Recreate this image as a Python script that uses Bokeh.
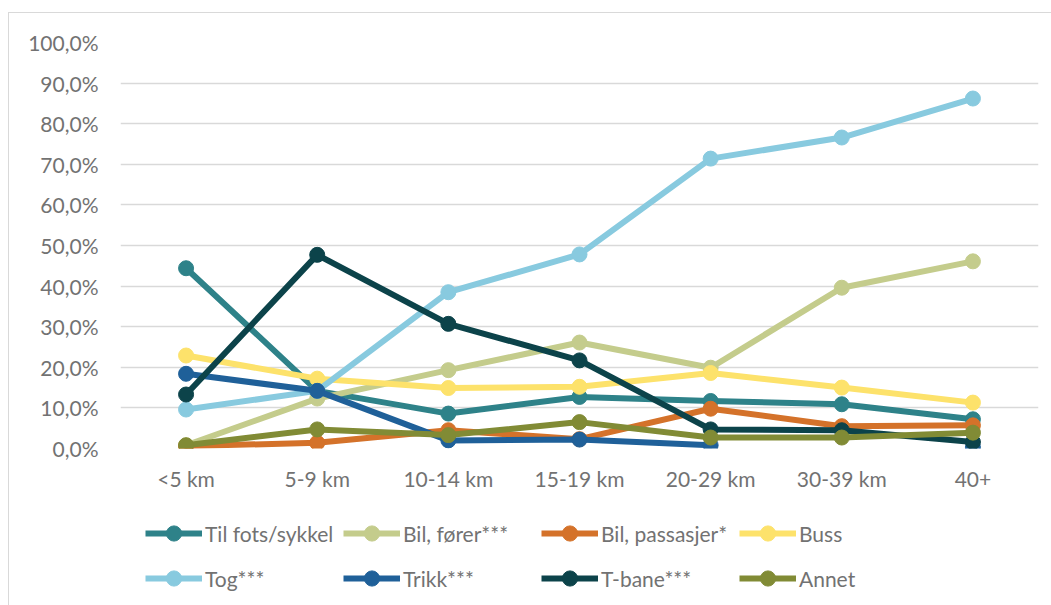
import numpy as np
from bokeh.plotting import figure
from bokeh.layouts import column
from bokeh.models import (ColumnDataSource, Range1d, FixedTicker, Legend, LegendItem)
from bokeh.embed import file_html
from bokeh.resources import INLINE

# Reisemiddel etter reiseavstand (andel av reiser, prosent)
categories = ["<5 km", "5-9 km", "10-14 km", "15-19 km", "20-29 km", "30-39 km", "40+"]

til_fots_sykkel = [44.4, 14.2, 8.6, 12.7, 11.7, 10.9, 7.2]
bil_forer = [0.8, 12.3, 19.3, 26.1, 19.9, 39.6, 46.1]
bil_passasjer = [0.6, 1.4, 4.5, 2.3, 9.8, 5.5, 5.7]
buss = [22.9, 17.2, 14.9, 15.2, 18.6, 15.0, 11.3]
tog = [9.6, 14.2, 38.5, 47.8, 71.4, 76.6, 86.2]
trikk = [18.4, 14.2, 2.0, 2.2, 0.8, None, 0.3]
t_bane = [13.3, 47.7, 30.7, 21.7, 4.7, 4.5, 1.6]
annet = [0.8, 4.7, 3.3, 6.5, 2.7, 2.7, 3.9]

series_names = ["Til fots/sykkel", "Bil, fører***", "Bil, passasjer*", "Buss",
                "Tog***", "Trikk***", "T-bane***", "Annet"]
series_values = [til_fots_sykkel, bil_forer, bil_passasjer, buss,
                 tog, trikk, t_bane, annet]
series_colors = ["#2E8289", "#C4CC8C", "#D4722A", "#FDE26B",
                 "#88CADF", "#1F6099", "#0C434A", "#818B35"]

y_ticks = list(range(0, 101, 10))

FONT = "Lato"
TEXT_COLOR = "#727272"
GRID_COLOR = "#d9d9d9"
LINE_W = 6
MARKER = 15

x_pos = np.arange(len(categories)) + 0.5

# main chart
p = figure(
    width=1042, height=492,
    x_range=Range1d(0, len(categories)), y_range=Range1d(0, 100),
    output_backend="svg", toolbar_location=None, title=None,
    min_border_left=111, min_border_right=13,
    min_border_top=29, min_border_bottom=57,
)
p.outline_line_color = None
p.background_fill_color = "white"
p.border_fill_color = "white"

p.xaxis.ticker = FixedTicker(ticks=list(x_pos))
p.xaxis.major_label_overrides = {float(x): c for x, c in zip(x_pos, categories)}
p.yaxis.ticker = FixedTicker(ticks=y_ticks)
p.yaxis.major_label_overrides = {t: f"{t},0%" for t in y_ticks}
for ax in (p.xaxis, p.yaxis):
    ax.axis_line_color = None
    ax.major_tick_line_color = None
    ax.minor_tick_line_color = None
    ax.major_label_text_font = FONT
    ax.major_label_text_font_size = "21px"
    ax.major_label_text_color = TEXT_COLOR
p.yaxis.major_label_standoff = 16
p.xaxis.major_label_standoff = 11

p.xgrid.grid_line_color = None
p.ygrid.grid_line_color = GRID_COLOR
p.ygrid.grid_line_width = 1.3

# legend strip below the chart (its frame lines up with the chart frame)
lf = figure(
    width=1042, height=100,
    x_range=Range1d(-10, -9), y_range=Range1d(-10, -9),
    output_backend="svg", toolbar_location=None, title=None,
    min_border_left=0, min_border_right=0, min_border_top=0, min_border_bottom=0,
)
lf.axis.visible = False
lf.grid.visible = False
lf.outline_line_color = None
lf.background_fill_color = "white"
lf.border_fill_color = "white"

items = []
for name, vals, color in zip(series_names, series_values, series_colors):
    src = ColumnDataSource(dict(x=x_pos, y=np.array(vals, dtype=float)))
    p.line("x", "y", source=src, line_color=color, line_width=LINE_W,
           line_join="round", line_cap="round")
    p.scatter("x", "y", source=src, size=MARKER, marker="circle",
              fill_color=color, line_color=color)
    ln = lf.line("x", "y", source=src, line_color=color, line_width=LINE_W)
    sc = lf.scatter("x", "y", source=src, marker="circle",
                    fill_color=color, line_color=color)
    items.append(LegendItem(label=name, renderers=[ln, sc]))

legend = Legend(
    items=items, orientation="horizontal", ncols=4,
    location=(25, 8),
    glyph_width=57, glyph_height=38, label_standoff=3, label_width=131,
    label_height=38, spacing=7, padding=0, margin=0,
    border_line_color=None, background_fill_alpha=0,
    label_text_font=FONT, label_text_font_size="21px",
    label_text_color=TEXT_COLOR,
)
lf.add_layout(legend, "center")

layout = column(p, lf, spacing=0)
layout.styles = {
    "margin-left": "8px", "margin-top": "12px",
    "border-left": f"1px solid {GRID_COLOR}",
    "border-top": f"1px solid {GRID_COLOR}",
}

open("out.html", "w").write(file_html(layout, INLINE))
